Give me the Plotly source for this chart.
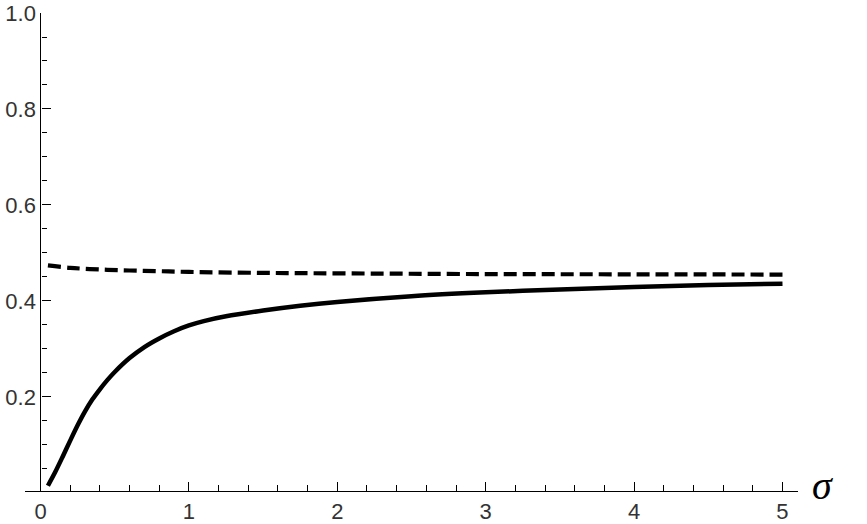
import plotly.graph_objects as go

# Data
x_solid = [0.05, 0.1, 0.15, 0.2, 0.25, 0.3, 0.35, 0.4, 0.45, 0.5, 0.6, 0.7, 0.8, 0.9, 1.0,
           1.1, 1.25, 1.5, 1.75, 2.0, 2.5, 3.0, 3.5, 4.0, 4.5, 5.0]
y_solid = [0.015, 0.044, 0.076, 0.109, 0.141, 0.170, 0.195, 0.216, 0.235, 0.252, 0.281, 0.304,
           0.322, 0.337, 0.349, 0.358, 0.368, 0.380, 0.390, 0.398, 0.410, 0.418, 0.424, 0.429,
           0.433, 0.436]

x_dashed = [0.05, 0.2, 0.4, 0.6, 0.8, 1.0, 1.5, 2.0, 3.0, 4.0, 5.0]
y_dashed = [0.474, 0.469, 0.4655, 0.4635, 0.462, 0.4605, 0.4585, 0.4575, 0.456, 0.4555, 0.455]

x_tickvals = [0, 1, 2, 3, 4, 5]
x_ticktext = ["0", "1", "2", "3", "4", "5"]
y_tickvals = [0.2, 0.4, 0.6, 0.8, 1.0]
y_ticktext = ["0.2", "0.4", "0.6", "0.8", "1.0"]

fig = go.Figure()
fig.add_trace(go.Scatter(x=x_dashed, y=y_dashed, mode="lines",
                         line=dict(color="black", width=4.2, dash="13px,6px", shape="spline"),
                         showlegend=False, hoverinfo="skip"))
fig.add_trace(go.Scatter(x=x_solid, y=y_solid, mode="lines",
                         line=dict(color="black", width=4.5, shape="spline", smoothing=0.8),
                         showlegend=False, hoverinfo="skip"))

tickfont = dict(family="Liberation Sans, Arial, sans-serif", size=22, color="#333333")

fig.update_layout(
    width=867, height=524,
    margin=dict(l=25, r=69, t=13, b=33),
    plot_bgcolor="white", paper_bgcolor="white",
    xaxis=dict(range=[-0.1045, 5.1045], showgrid=False, zeroline=False, automargin=False,
               showline=True, linecolor="black", linewidth=1.3,
               tickvals=x_tickvals, ticktext=x_ticktext,
               ticks="inside", ticklen=9, tickwidth=1.2, tickcolor="black",
               minor=dict(dtick=0.2, tick0=0, ticks="inside", ticklen=5.5,
                          tickwidth=1.2, tickcolor="black", showgrid=False),
               tickfont=tickfont),
    yaxis=dict(range=[0.004, 1.0], showgrid=False, zeroline=False, automargin=False,
               anchor="free", position=0.02005,
               showline=True, linecolor="black", linewidth=1.3,
               tickvals=y_tickvals, ticktext=y_ticktext,
               ticks="inside", ticklen=9, tickwidth=1.2, tickcolor="black",
               minor=dict(dtick=0.05, tick0=0, ticks="inside", ticklen=5.5,
                          tickwidth=1.2, tickcolor="black", showgrid=False),
               tickfont=tickfont),
    annotations=[dict(text="σ", x=1.0, xref="paper", y=0.004, yref="y",
                      xanchor="left", yanchor="middle", xshift=12, yshift=6,
                      showarrow=False,
                      font=dict(family="Liberation Serif, Times New Roman, serif",
                                size=40, color="black", style="italic"))],
)

fig.write_html("out.html", config={"displayModeBar": False},
               post_script="document.body.style.margin='0';document.body.style.padding='0';")
